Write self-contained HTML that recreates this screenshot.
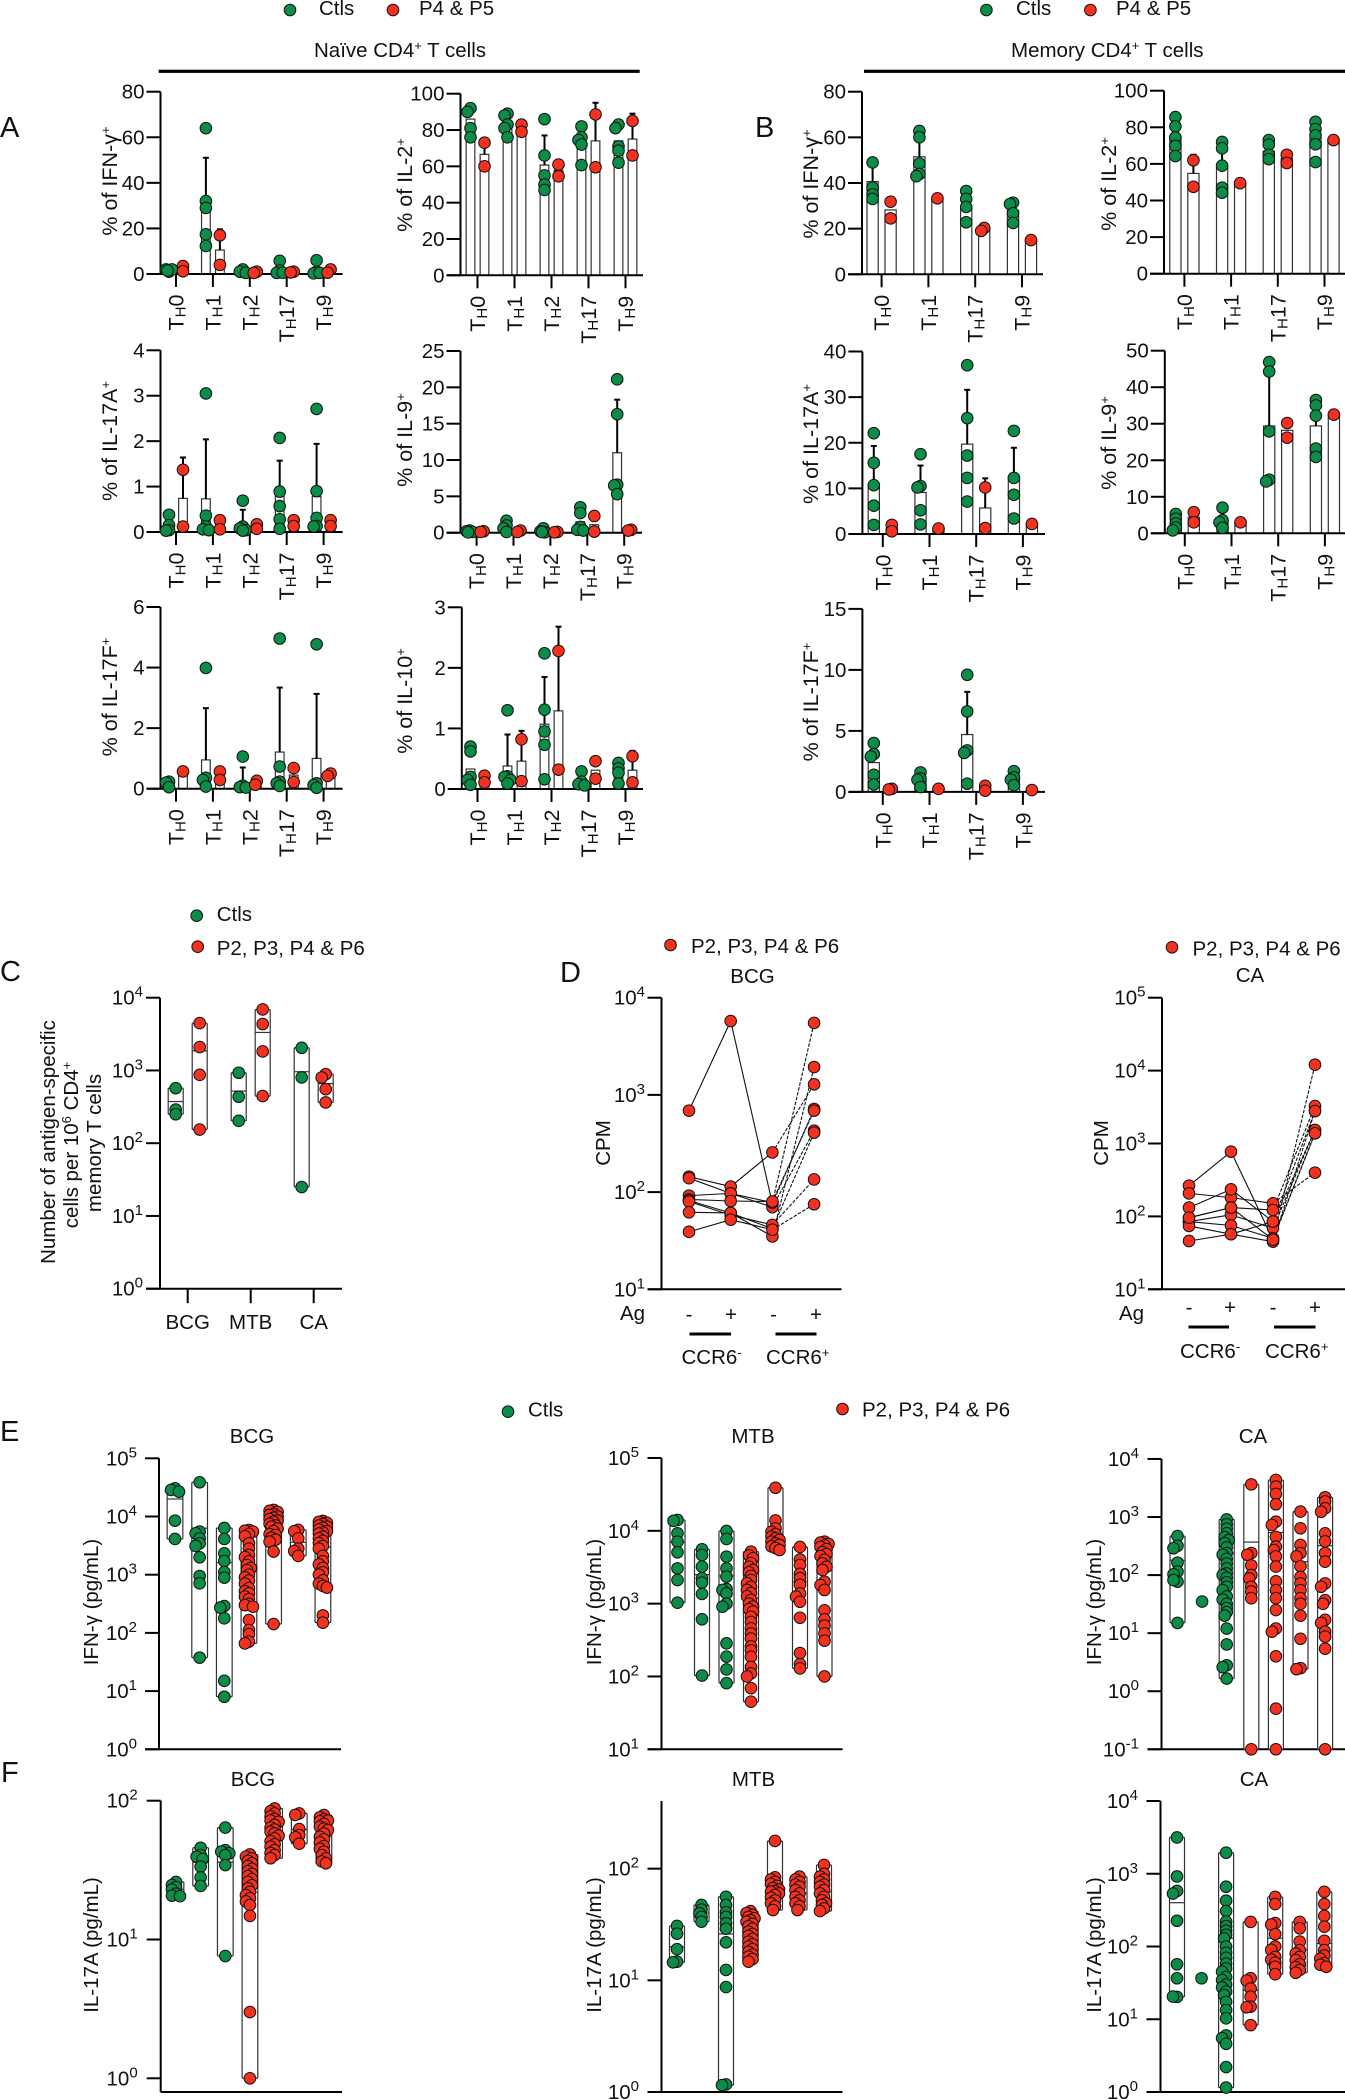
<!DOCTYPE html>
<html lang="en">
<head>
<meta charset="utf-8">
<title>CD4 T cell cytokine panels</title>
<style>
html,body{margin:0;padding:0;background:#fff;width:1345px;height:2100px;overflow:hidden}
svg{display:block}
text{font-family:"Liberation Sans",Arial,sans-serif;fill:#111;font-size:20.5px}
.letter{font-size:29px}
</style>
</head>
<body>
<svg id="fig" xmlns="http://www.w3.org/2000/svg" width="1345" height="2100" viewBox="0 0 1345 2100">
<rect x="0" y="0" width="1345" height="2100" fill="#fff"/>

<!-- legends and headers -->
<g>
<circle cx="290" cy="10" r="5.8" fill="#0b8c47" stroke="#111"/>
<text x="319" y="15">Ctls</text>
<circle cx="393" cy="10" r="5.8" fill="#f4301f" stroke="#111"/>
<text x="419" y="15">P4 &amp; P5</text>
</g>
<text x="314" y="57">Naïve CD4<tspan dy="-7" font-size="13">+</tspan><tspan dy="7"> T cells</tspan></text>
<rect x="158.7" y="69.7" width="481" height="3.2" fill="#000"/>
<g>
<circle cx="986.4" cy="10" r="5.8" fill="#0b8c47" stroke="#111"/>
<text x="1016" y="15">Ctls</text>
<circle cx="1090.4" cy="10" r="5.8" fill="#f4301f" stroke="#111"/>
<text x="1116" y="15">P4 &amp; P5</text>
</g>
<text x="1011" y="57">Memory CD4<tspan dy="-7" font-size="13">+</tspan><tspan dy="7"> T cells</tspan></text>
<rect x="864" y="69.7" width="481" height="3.2" fill="#000"/>

<!-- panel letters -->
<text class="letter" x="0" y="137">A</text>
<text class="letter" x="755" y="137">B</text>
<text class="letter" x="0" y="981">C</text>
<text class="letter" x="560" y="982">D</text>
<text class="letter" x="0" y="1441">E</text>
<text class="letter" x="1" y="1782">F</text>

<!-- y axis titles, panels A and B -->
<text font-size="21" style="font-size:21.5px" transform="translate(117,181) rotate(-90)" text-anchor="middle">% of IFN-γ<tspan dy="-7" font-size="13">+</tspan></text>
<text style="font-size:21.5px" transform="translate(412,185) rotate(-90)" text-anchor="middle">% of IL-2<tspan dy="-7" font-size="13">+</tspan></text>
<text style="font-size:21.5px" transform="translate(117,441) rotate(-90)" text-anchor="middle">% of IL-17A<tspan dy="-7" font-size="13">+</tspan></text>
<text style="font-size:21.5px" transform="translate(412,440) rotate(-90)" text-anchor="middle">% of IL-9<tspan dy="-7" font-size="13">+</tspan></text>
<text style="font-size:21.5px" transform="translate(117,697) rotate(-90)" text-anchor="middle">% of IL-17F<tspan dy="-7" font-size="13">+</tspan></text>
<text style="font-size:21.5px" transform="translate(412,701) rotate(-90)" text-anchor="middle">% of IL-10<tspan dy="-7" font-size="13">+</tspan></text>
<text style="font-size:21.5px" transform="translate(818,184) rotate(-90)" text-anchor="middle">% of IFN-γ<tspan dy="-7" font-size="13">+</tspan></text>
<text style="font-size:21.5px" transform="translate(1116,184) rotate(-90)" text-anchor="middle">% of IL-2<tspan dy="-7" font-size="13">+</tspan></text>
<text style="font-size:21.5px" transform="translate(818,444) rotate(-90)" text-anchor="middle">% of IL-17A<tspan dy="-7" font-size="13">+</tspan></text>
<text style="font-size:21.5px" transform="translate(1116,443) rotate(-90)" text-anchor="middle">% of IL-9<tspan dy="-7" font-size="13">+</tspan></text>
<text style="font-size:21.5px" transform="translate(818,702) rotate(-90)" text-anchor="middle">% of IL-17F<tspan dy="-7" font-size="13">+</tspan></text>

<!-- panel C labels -->
<g>
<circle cx="196.7" cy="915.7" r="5.8" fill="#0b8c47" stroke="#111"/>
<text x="216.7" y="921">Ctls</text>
<circle cx="197.7" cy="946.7" r="5.8" fill="#f4301f" stroke="#111"/>
<text x="216.7" y="955">P2, P3, P4 &amp; P6</text>
</g>
<text transform="translate(55,1142) rotate(-90)" text-anchor="middle">Number of antigen-specific</text>
<text transform="translate(78,1145) rotate(-90)" text-anchor="middle">cells per 10<tspan dy="-7" font-size="13">6</tspan><tspan dy="7"> CD4</tspan><tspan dy="-7" font-size="13">+</tspan></text>
<text transform="translate(101,1143) rotate(-90)" text-anchor="middle">memory T cells</text>

<!-- panel D labels -->
<g>
<circle cx="670.5" cy="945" r="5.8" fill="#f4301f" stroke="#111"/>
<text x="691" y="953">P2, P3, P4 &amp; P6</text>
</g>
<text x="752.5" y="983" text-anchor="middle">BCG</text>
<text transform="translate(610,1143) rotate(-90)" text-anchor="middle">CPM</text>
<text x="620" y="1320">Ag</text>
<text x="689" y="1321" text-anchor="middle">-</text>
<text x="731" y="1321" text-anchor="middle">+</text>
<text x="773.5" y="1321" text-anchor="middle">-</text>
<text x="816" y="1321" text-anchor="middle">+</text>
<rect x="689.5" y="1332.5" width="41.5" height="3" fill="#000"/>
<rect x="775.5" y="1332.5" width="41" height="3" fill="#000"/>
<text x="681.5" y="1364">CCR6<tspan dy="-7" font-size="13">-</tspan></text>
<text x="766" y="1364">CCR6<tspan dy="-7" font-size="13">+</tspan></text>

<g>
<circle cx="1172" cy="947.3" r="5.8" fill="#f4301f" stroke="#111"/>
<text x="1192.5" y="955.5">P2, P3, P4 &amp; P6</text>
</g>
<text x="1250" y="982" text-anchor="middle">CA</text>
<text transform="translate(1108,1143) rotate(-90)" text-anchor="middle">CPM</text>
<text x="1119" y="1320">Ag</text>
<text x="1189" y="1314" text-anchor="middle">-</text>
<text x="1230" y="1314" text-anchor="middle">+</text>
<text x="1273" y="1314" text-anchor="middle">-</text>
<text x="1315" y="1314" text-anchor="middle">+</text>
<rect x="1188.5" y="1325.5" width="40.5" height="3" fill="#000"/>
<rect x="1274" y="1325.5" width="41.5" height="3" fill="#000"/>
<text x="1180" y="1358">CCR6<tspan dy="-7" font-size="13">-</tspan></text>
<text x="1265" y="1358">CCR6<tspan dy="-7" font-size="13">+</tspan></text>

<!-- panel E labels -->
<circle cx="508" cy="1411.7" r="5.8" fill="#0b8c47" stroke="#111"/>
<text x="528" y="1416.5">Ctls</text>
<circle cx="842.5" cy="1409" r="5.8" fill="#f4301f" stroke="#111"/>
<text x="862" y="1416.5">P2, P3, P4 &amp; P6</text>
<text x="252" y="1443" text-anchor="middle">BCG</text>
<text x="753" y="1443" text-anchor="middle">MTB</text>
<text x="1253" y="1443" text-anchor="middle">CA</text>
<text transform="translate(98,1602) rotate(-90)" text-anchor="middle">IFN-γ (pg/mL)</text>
<text transform="translate(601,1602) rotate(-90)" text-anchor="middle">IFN-γ (pg/mL)</text>
<text transform="translate(1101,1602) rotate(-90)" text-anchor="middle">IFN-γ (pg/mL)</text>

<!-- panel F labels -->
<text x="253" y="1786" text-anchor="middle">BCG</text>
<text x="753.5" y="1786" text-anchor="middle">MTB</text>
<text x="1254" y="1786" text-anchor="middle">CA</text>
<text transform="translate(98,1945) rotate(-90)" text-anchor="middle">IL-17A (pg/mL)</text>
<text transform="translate(601,1945) rotate(-90)" text-anchor="middle">IL-17A (pg/mL)</text>
<text transform="translate(1101,1945) rotate(-90)" text-anchor="middle">IL-17A (pg/mL)</text>
</svg>

<script>
/* ---------- categories ---------- */
const subsetsNaive = ["0","1","2","17","9"];
const subsetsMemory = ["0","1","17","9"];
const antigenLabels = ["BCG","MTB","CA"];

/* ---------- panel A, IFN-gamma ---------- */
const a1Ticks = [0,20,40,60,80];
const a1Ctl = [[1,2,2,1.5],[64,32,29,17.4,12.3],[2,1,0.5],[5.8,1.5,0.5,0.6],[6,1,0.3,0.5]];
const a1Pat = [[3.5,1.2],[17,4],[1,0.5],[1,0.7],[2,0.6]];
const a1CtlBar = [1.6,28,1.2,2,2];
const a1PatBar = [2.4,10.5,0.8,0.9,1.3];
const a1CtlErr = [null,51,null,null,null];
const a1PatErr = [null,19.6,null,null,null];
/* ---------- panel A, IL-2 ---------- */
const a2Ticks = [0,20,40,60,80,100];
const a2Ctl = [[92,90,81,76],[89,88,83,81,76],[86,66,55,50,47],[82,76,74.5,72,60.7],[83,81,71,68.6,62]];
const a2Pat = [[73,60],[83,79],[61,54.5],[88.6,59.5],[85,66]];
const a2CtlBar = [86,84,60.7,73,74];
const a2PatBar = [66.6,81,57.8,74,75];
const a2CtlErr = [null,null,77,null,null];
const a2PatErr = [73,null,null,95,89];
/* ---------- panel A, IL-17A ---------- */
const a3Ticks = [0,1,2,3,4];
const a3Ctl = [[0.38,0.15,0.04,0.03],[3.05,0.36,0.12,0.06,0.04],[0.69,0.12,0.08,0.04,0.03],[2.07,0.89,0.57,0.28,0.07],[2.71,0.9,0.31,0.13,0.12]];
const a3Pat = [[1.37,0.12],[0.26,0.06],[0.17,0.07],[0.26,0.13],[0.26,0.13]];
const a3CtlBar = [0.15,0.73,0.2,0.78,0.78];
const a3PatBar = [0.74,0.16,0.12,0.2,0.2];
const a3CtlErr = [null,2.04,0.49,1.57,1.94];
const a3PatErr = [1.64,null,null,null,null];
/* ---------- panel A, IL-9 ---------- */
const a4Ticks = [0,5,10,15,20,25];
const a4Ctl = [[0.3,0.2,0.1,0.05],[1.65,1,0.6,0.1],[0.6,0.2,0.05,0.1],[3.5,2.7,0.8,0.4,0.3],[21.1,16.3,6.6,6.5,5.3]];
const a4Pat = [[0.2,0.1],[0.3,0.1],[0.1,0.05],[2.3,0.15],[0.4,0.3]];
const a4CtlBar = [0.15,0.6,0.2,1.5,11];
const a4PatBar = [0.15,0.2,0.08,1.1,0.35];
const a4CtlErr = [null,null,null,null,18.3];
const a4PatErr = [null,null,null,null,null];
/* ---------- panel A, IL-17F ---------- */
const a5Ticks = [0,2,4,6];
const a5Ctl = [[0.23,0.2,0.05],[3.99,0.36,0.29,0.07],[1.06,0.1,0.05,0.04],[4.96,0.73,0.23,0.18,0.09],[4.77,0.18,0.12,0.03]];
const a5Pat = [[0.57],[0.57,0.29],[0.26,0.13],[0.68,0.22],[0.5,0.42]];
const a5CtlBar = [0.1,0.95,0.2,1.21,1];
const a5PatBar = [0.55,0.43,0.2,0.45,0.46];
const a5CtlErr = [null,2.66,0.7,3.34,3.13];
const a5PatErr = [null,null,null,null,null];
/* ---------- panel A, IL-10 ---------- */
const a6Ticks = [0,1,2,3];
const a6Ctl = [[0.7,0.62,0.2,0.15,0.07],[1.3,0.21,0.2,0.15,0.09],[2.24,1.31,0.95,0.73,0.16],[0.29,0.12,0.08,0.06],[0.43,0.34,0.27,0.09]];
const a6Pat = [[0.22,0.11],[0.82,0.13],[2.28,0.32],[0.46,0.17],[0.54,0.11]];
const a6CtlBar = [0.33,0.38,1.07,0.17,0.3];
const a6PatBar = [0.17,0.46,1.29,0.31,0.31];
const a6CtlErr = [null,0.9,1.85,null,null];
const a6PatErr = [null,0.96,2.68,null,0.63];

/* ---------- panel B, IFN-gamma ---------- */
const b1Ticks = [0,20,40,60,80];
const b1Ctl = [[49,38,35,33],[62.8,60,48.5,44,43],[36.5,33,29.5,22.8],[31.4,30.8,26.7,22.5]];
const b1Pat = [[31.8,24.5],[33.3],[20.3,19],[15]];
const b1CtlBar = [40.6,51.5,30,28];
const b1PatBar = [28.2,33,20,15];
const b1CtlErr = [49,60,null,null];
const b1PatErr = [null,null,null,null];
/* ---------- panel B, IL-2 ---------- */
const b2Ticks = [0,20,40,60,80,100];
const b2Ctl = [[85.6,80.5,74.5,69.8,64.3],[72,68.5,59,47,44.3],[73,70.5,65,62.6],[83,79,75.6,70.7,61]];
const b2Pat = [[62,47.5],[49.5],[65,60.5],[73]];
const b2CtlBar = [75,58,67,74];
const b2PatBar = [54.8,49.5,63,73];
const b2CtlErr = [null,68,null,null];
const b2PatErr = [65,null,null,null];
/* ---------- panel B, IL-17A ---------- */
const b3Ticks = [0,10,20,30,40];
const b3Ctl = [[22.1,15.6,10.7,6.2,2],[17.5,10.5,10.2,5.2,2.1],[37,25.4,17.2,12.3,7.1],[22.6,12.3,8.6,3.4]];
const b3Pat = [[2,0.6],[1.2],[10.2,1.3],[2.2]];
const b3CtlBar = [10.7,9.1,19.7,12.3];
const b3PatBar = [1.3,1.2,5.7,2.2];
const b3CtlErr = [19.3,15,31.6,18.9];
const b3PatErr = [null,null,12.2,null];
/* ---------- panel B, IL-9 ---------- */
const b4Ticks = [0,10,20,30,40,50];
const b4Ctl = [[5.3,4,2.7,1.6,0.8],[7,3.6,3,1.5],[46.9,44.3,27.9,14.7,14.2],[36.5,35,32.2,23.2,20.9]];
const b4Pat = [[5.8,3],[3],[30.2,26.2],[32.5]];
const b4CtlBar = [3,3.4,29.4,29.4];
const b4PatBar = [4.4,3,28.2,32.5];
const b4CtlErr = [null,null,44,33.5];
const b4PatErr = [null,null,null,null];
/* ---------- panel B, IL-17F ---------- */
const b5Ticks = [0,5,10,15];
const b5Ctl = [[4,3.1,2.9,1.4,0.6],[1.6,1.1,1,0.4],[9.6,6.6,3.4,3.2,0.67],[1.7,1.2,1,0.55]];
const b5Pat = [[0.25,0.2],[0.25],[0.5,0.1],[0.15]];
const b5CtlBar = [2.4,1,4.7,1.1];
const b5PatBar = [0.2,0.25,0.3,0.15];
const b5CtlErr = [null,null,8.2,null];
const b5PatErr = [null,null,null,null];

/* ---------- panel C ---------- */
const cTicks = [0,1,2,3,4];
const cValues = [[571,290,250],[4480,2094,870,154],[930,435,203],[6900,4350,1825,444],[2050,802,25],[890,800,553,363]];
const cMeans = [374,1860,520,3330,960,660];
const cGroups = ["ctl","pat","ctl","pat","ctl","pat"];

/* ---------- panel D ---------- */
const dBcgTicks = [1,2,3,4];
const dBcgPatients = [
 [689,5754,76,716],[144,114,256,1285],[139,97,70,428],[92,97,78,5500],
 [84,81,80,689],[82,61,42,409],[80,58,46,135],[62,61,35,1936],[39,52,41,75]];
const dCaTicks = [1,2,3,4,5];
const dCaPatients = [
 [264,773,48,12050],[207,181,151,398],[132,235,85,2790],[96,132,122,3266],
 [85,105,69,1530],[85,75,50,1380],[74,57,45,2790],[46,57,85,1530],[96,132,48,1380]];

/* ---------- panel E ---------- */
const columnGroups = ["ctl","ctl","ctl","pat","pat","pat","pat"];
const e1Ticks = [0,1,2,3,4,5];
const e1Values = [
 [30500,28600,26700,8490,4110],
 [38700,5500,5140,4210,3460,3120,1990,950,711,37.6],
 [6350,4110,2330,1720,1110,891,290,272,178,15,8],
 [5875,5700,5500,5000,4570,3470,2800,2190,2000,1700,1470,1300,1200,1000,900,794,700,589,520,479,420,380,316,300,282,166,112,95,71,66],
 [13000,12500,12000,11000,10600,10000,9500,9000,8500,8100,7500,7000,6700,6200,5600,5000,4800,4300,4000,3700,2500,142],
 [5900,5600,4200,2800,2550,2100],
 [8400,8100,7800,7400,7000,6700,6400,6000,5600,5300,5100,4500,4200,3800,3500,3100,2800,2100,1700,1500,1300,1100,1000,800,700,640,600,200,150]];
const e1Means = [20000,6300,1610,1400,6500,3600,3000];
const e2Ticks = [1,2,3,4,5];
const e2Values = [
 [14100,13700,9250,7100,5070,3050,2110,1030],
 [5570,4650,3220,2230,1940,1360,610,103],
 [9960,7730,4420,3050,2350,1590,1540,1380,1000,910,285,187,125,81],
 [5180,4600,4190,3600,3200,2900,2690,2400,2110,1900,1700,1540,1400,1260,1130,1000,910,840,776,660,560,457,389,331,260,229,186,135,110,100,69,45],
 [39000,13900,10800,9700,9000,8300,7900,7500,7100,6700,6400,6100,5800,5450],
 [6000,4050,3400,2570,2240,1820,1380,1250,1060,640,210,148,129],
 [7100,6900,6600,6300,6000,5600,5100,4800,4500,4000,3550,3200,2900,2000,1800,1540,810,610,500,390,310,100]];
const e2Means = [7000,2500,2400,1200,9000,2000,3000];
const e3Ticks = [-1,0,1,2,3,4];
const e3Values = [
 [470,320,290,164,115,103,77,82,15],
 [35],
 [910,750,630,525,450,400,355,300,240,224,190,158,130,107,100,90,75,63,55,43,38,32,27,23,20,12,6.4,2.8,2.6,1.65],
 [3650,240,224,147,100,87,63,52,40,0.1],
 [4350,3340,2500,1660,830,730,455,310,270,210,140,78,55,40,25,12,10.6,4,0.5,0.1],
 [1240,640,330,240,210,142,93,72,55,40,32,20,8,2.5,2.4],
 [2190,1860,1410,1230,525,380,240,170,72,63,37,32,17,15,10.6,8.7,5.4,0.1]];
const e3Means = [180,null,240,370,540,170,320];

/* ---------- panel F ---------- */
const f1Ticks = [0,1,2];
const f1Values = [
 [26,24.7,23.8,22.9,21.4,20.7,20.5],
 [45.8,40.6,39.5,38,33.5,28,24.3],
 [64,44,43,41.8,40.5,34.4,7.6],
 [41,39.5,38.4,36.8,35.4,33.8,32.3,31,29.7,28.6,27.2,26,24.6,23.4,22,20.9,19.8,18.8,17.7,14.8,3,1],
 [88,84,81,77,74,72,70.5,67,64,62,59.7,58,56,53.5,51,48.5,46.6,44,42,40.6,38.5],
 [81,79,62.5,56.5,54.5,49],
 [78.8,76,73.5,72,71,68,65,63,61.5,58,55,52.6,50,47,45,42.9,40.5,38.4,36.5,35.4]];
const f1Means = [23,36,36,22,60,62,55];
const f2Ticks = [0,1,2];
const f2Values = [
 [30.7,26.2,19,14.7,14.5],
 [47.3,43,39.8,37,33.5],
 [56,47.3,40.7,37,32.4,29,21.9,12.4,8.7,1.17,1.15],
 [41.7,40,38.5,37,35.9,34.5,33.5,32,30.5,29,27.3,26,25,23.5,22.2,21,20,19,18,17,16.3,15.5,14.7],
 [177,83.6,80,76,73,70,67,65,63,62,60,58,55,52,49,46,42.6],
 [85,80,76,72,69,64.4,60,56,52,49,46,42.6],
 [108,90,85,80,76,72,69,64.4,60,56,52,49,47.3,44,41.7]];
const f2Means = [20,40,26,24,65,60,62];
const f3Ticks = [0,1,2,3,4];
const f3Values = [
 [3160,920,580,534,226,57,36.6,20.3,20.5],
 [36.6],
 [1950,663,427,307,220,190,165,145,129,100,82,70,58,50,45,38,34.5,30,27.4,24,21.5,17.4,13.4,10.3,6,5.5,4.6,2.2,1.15],
 [218,36.7,34,26.4,20.4,14.9,14.6,8.3],
 [480,383,210,200,148,100,90,72,66,60,52.6,41.6],
 [218,178,117,89,80,72,65,57,52,47.6,43.5],
 [565,383,263,187,120,89,75,68,59,56,52.6]];
const f3Means = [400,null,130,25,130,90,110];

/* ---------- drawing ---------- */
const NS = "http://www.w3.org/2000/svg";
const GREEN = "#0b8c47";
const RED = "#f4301f";
const INK = "#111";
const fig = document.getElementById("fig");
const OFFSETS = [0,-2.5,2.5,-5,5];
const MIN_SEP = 4;
const R = 5.8;

function el(tag, attrs, parent) {
  const n = document.createElementNS(NS, tag);
  for (const k in attrs) n.setAttribute(k, attrs[k]);
  parent.appendChild(n);
  return n;
}
function line(parent, x1, y1, x2, y2, w, stroke) {
  return el("line", {x1:x1, y1:y1, x2:x2, y2:y2, stroke:stroke || "#000", "stroke-width":w}, parent);
}
function swarm(vals, yFn, cx, spread) {
  const placed = [];
  return vals.map(function (v) {
    const y = yFn(v);
    let best = 0, bestD = -1;
    for (const o0 of OFFSETS) {
      const o = o0 * spread;
      let d = Infinity;
      for (const p of placed) d = Math.min(d, Math.hypot(p.x - (cx + o), p.y - y));
      if (d >= MIN_SEP) { best = o; break; }
      if (d > bestD) { bestD = d; best = o; }
    }
    placed.push({x: cx + best, y: y});
    return cx + best;
  });
}
function drawPoints(parent, vals, yFn, cx, color, spread) {
  const xs = swarm(vals, yFn, cx, spread);
  vals.forEach(function (v, i) {
    const c = el("circle", {cx:xs[i], cy:yFn(v), r:R, fill:color, stroke:INK, "stroke-width":1}, parent);
    
    
  });
}
function drawYAxisBase(g, c) {
  const a = line(g, c.axisX, c.axisTop, c.axisX, c.axisBottom, 2);
  
  
  const b = line(g, c.axisX - (c.baseFromAxis ? 0 : 14), c.axisBottom, c.right, c.axisBottom, 2);
  
  
}
function drawYTick(g, c, y) {
  const t = line(g, c.axisX - 14, y, c.axisX, y, 2);
  
  
}

/* bar panels (A, B) */
function barPanel(c) {
  const g = el("g", {}, fig);
  
  
  const y = function (v) { return c.y0 - v / c.max * (c.y0 - c.yTop); };
  const bandX = function (i) { return c.first + i * c.step; };
  c.axisTop = c.yTop;
  c.axisBottom = c.y0;
  c.cats.forEach(function (cat, i) {
    [[c.ctlBar, c.ctlErr, -c.off], [c.patBar, c.patErr, c.off]].forEach(function (s) {
      const cx = bandX(i) + s[2];
      const bar = el("rect", {x:cx - c.barW / 2, y:y(s[0][i]), width:c.barW, height:c.y0 - y(s[0][i]), fill:"#fff", stroke:"#333", "stroke-width":1.2}, g);
      
      
      if (s[1][i] !== null) {
        const e = line(g, cx, y(s[0][i]), cx, y(s[1][i]), 2);
        
        
        const cap = line(g, cx - 3, y(s[1][i]), cx + 3, y(s[1][i]), 2);
        
        
      }
    });
  });
  drawYAxisBase(g, c);
  c.ticks.forEach(function (t) {
    drawYTick(g, c, y(t));
    const lab = el("text", {x:c.axisX - 16, y:y(t) + 7, "text-anchor":"end"}, g);
    lab.textContent = String(t);
    
    
  });
  c.cats.forEach(function (cat, i) {
    const tk = line(g, bandX(i), c.y0, bandX(i), c.y0 + 13, 2);
    
    
    const lab = el("text", {transform:"translate(" + (bandX(i) + 7.5) + "," + (c.y0 + 20.5) + ") rotate(-90)", "text-anchor":"end", style:"font-size:21.5px"}, g);
    
    
    const t1 = el("tspan", {}, lab);
    t1.textContent = "T";
    const t2 = el("tspan", {"font-size":"15", dy:"2"}, lab);
    t2.textContent = "H";
    const t3 = el("tspan", {dy:"-2"}, lab);
    t3.textContent = cat;
    drawPoints(g, c.ctl[i], y, bandX(i) - c.off, GREEN, 0.6);
    drawPoints(g, c.pat[i], y, bandX(i) + c.off, RED, 0.6);
  });
}

/* log axis helper */
function logScale(c) {
  return function (v) { return c.yRef - (Math.log10(v) - c.refExp) * c.decade; };
}
function logTicks(g, c, y) {
  c.ticks.forEach(function (t) {
    const yy = y(Math.pow(10, t));
    drawYTick(g, c, yy);
    const lab = el("text", {x:c.axisX - c.labelGap, y:yy + 7, "text-anchor":"end"}, g);
    
    
    const a = el("tspan", {}, lab);
    a.textContent = "10";
    const b = el("tspan", {"font-size":"15", dy:"-8"}, lab);
    b.textContent = String(t);
  });
}

/* floating min-max columns (C, E, F) */
function floatPanel(c) {
  const g = el("g", {}, fig);
  
  
  const y = logScale(c);
  drawYAxisBase(g, c);
  logTicks(g, c, y);
  c.values.forEach(function (vals, i) {
    const cx = c.colX(i);
    if (vals.length > 1) {
      const top = y(Math.max.apply(null, vals));
      const bot = y(Math.min.apply(null, vals));
      const box = el("rect", {x:cx - c.boxW / 2, y:top, width:c.boxW, height:bot - top, rx:1, fill:"#fff", stroke:"#333", "stroke-width":1.2}, g);
      
      
    }
    if (c.means[i] !== null) {
      const m = line(g, cx - c.boxW / 2, y(c.means[i]), cx + c.boxW / 2, y(c.means[i]), 1.2, "#333");
      
      
    }
  });
  c.values.forEach(function (vals, i) {
    drawPoints(g, vals, y, c.colX(i), c.groups[i] === "ctl" ? GREEN : RED, 0.8);
  });
  if (c.cats) {
    c.cats.forEach(function (cat, i) {
      const tk = line(g, c.catX(i), c.axisBottom, c.catX(i), c.axisBottom + 14.5, 2);
      
      
      const lab = el("text", {x:c.catX(i), y:c.axisBottom + 40.5, "text-anchor":"middle"}, g);
      lab.textContent = cat;
      
      
    });
  }
}

/* paired lines (D) */
function pairedPanel(c) {
  const g = el("g", {}, fig);
  
  
  const y = logScale(c);
  const colX = function (i) { return c.first + i * c.step; };
  drawYAxisBase(g, c);
  logTicks(g, c, y);
  c.patients.forEach(function (p) {
    for (let i = 0; i < p.length - 1; i++) {
      const seg = line(g, colX(i), y(p[i]), colX(i + 1), y(p[i + 1]), 1.1, "#111");
      if (i === p.length - 2) seg.setAttribute("stroke-dasharray", "3.5 1.5");
      
      
    }
  });
  c.patients.forEach(function (p) {
    p.forEach(function (v, i) {
      const d = el("circle", {cx:colX(i), cy:y(v), r:R, fill:RED, stroke:INK, "stroke-width":1}, g);
      
      
    });
  });
}

/* ---------- panel layout ---------- */
barPanel({name:"chart-a-ifn", axisX:160.5, right:342.6, yTop:91.7, y0:274, max:80, ticks:a1Ticks, cats:subsetsNaive, first:176, step:36.9, off:7, barW:8.7, ctl:a1Ctl, pat:a1Pat, ctlBar:a1CtlBar, patBar:a1PatBar, ctlErr:a1CtlErr, patErr:a1PatErr});
barPanel({name:"chart-a-il2", axisX:460.5, right:643, yTop:93.7, y0:275.3, max:100, ticks:a2Ticks, cats:subsetsNaive, first:477.5, step:37, off:7, barW:8.7, ctl:a2Ctl, pat:a2Pat, ctlBar:a2CtlBar, patBar:a2PatBar, ctlErr:a2CtlErr, patErr:a2PatErr});
barPanel({name:"chart-a-il17a", axisX:160.5, right:342.6, yTop:350.3, y0:532, max:4, ticks:a3Ticks, cats:subsetsNaive, first:176, step:36.9, off:7, barW:8.7, ctl:a3Ctl, pat:a3Pat, ctlBar:a3CtlBar, patBar:a3PatBar, ctlErr:a3CtlErr, patErr:a3PatErr});
barPanel({name:"chart-a-il9", axisX:460.5, right:642, yTop:351, y0:532.7, max:25, ticks:a4Ticks, cats:subsetsNaive, first:476.6, step:36.9, off:7, barW:8.7, ctl:a4Ctl, pat:a4Pat, ctlBar:a4CtlBar, patBar:a4PatBar, ctlErr:a4CtlErr, patErr:a4PatErr});
barPanel({name:"chart-a-il17f", axisX:160.5, right:342.6, yTop:607, y0:788.7, max:6, ticks:a5Ticks, cats:subsetsNaive, first:176, step:36.9, off:7, barW:8.7, ctl:a5Ctl, pat:a5Pat, ctlBar:a5CtlBar, patBar:a5PatBar, ctlErr:a5CtlErr, patErr:a5PatErr});
barPanel({name:"chart-a-il10", axisX:461.8, right:643, yTop:607.3, y0:789, max:3, ticks:a6Ticks, cats:subsetsNaive, first:477.5, step:37, off:7, barW:8.7, ctl:a6Ctl, pat:a6Pat, ctlBar:a6CtlBar, patBar:a6PatBar, ctlErr:a6CtlErr, patErr:a6PatErr});

barPanel({name:"chart-b-ifn", axisX:862, right:1043, yTop:91.7, y0:274.3, max:80, ticks:b1Ticks, cats:subsetsMemory, first:881.6, step:46.8, off:9, barW:11.2, ctl:b1Ctl, pat:b1Pat, ctlBar:b1CtlBar, patBar:b1PatBar, ctlErr:b1CtlErr, patErr:b1PatErr});
barPanel({name:"chart-b-il2", axisX:1164, right:1345, yTop:90.7, y0:273.7, max:100, ticks:b2Ticks, cats:subsetsMemory, first:1184.4, step:46.7, off:9, barW:11.2, ctl:b2Ctl, pat:b2Pat, ctlBar:b2CtlBar, patBar:b2PatBar, ctlErr:b2CtlErr, patErr:b2PatErr});
barPanel({name:"chart-b-il17a", axisX:862.4, right:1045, yTop:351.5, y0:534, max:40, ticks:b3Ticks, cats:subsetsMemory, first:882.8, step:46.7, off:9, barW:11.2, ctl:b3Ctl, pat:b3Pat, ctlBar:b3CtlBar, patBar:b3PatBar, ctlErr:b3CtlErr, patErr:b3PatErr});
barPanel({name:"chart-b-il9", axisX:1164.8, right:1345, yTop:350.7, y0:533.3, max:50, ticks:b4Ticks, cats:subsetsMemory, first:1184.8, step:46.7, off:9, barW:11.2, ctl:b4Ctl, pat:b4Pat, ctlBar:b4CtlBar, patBar:b4PatBar, ctlErr:b4CtlErr, patErr:b4PatErr});
barPanel({name:"chart-b-il17f", axisX:862.4, right:1045, yTop:608.9, y0:791.9, max:15, ticks:b5Ticks, cats:subsetsMemory, first:882.8, step:46.7, off:9, barW:11.2, ctl:b5Ctl, pat:b5Pat, ctlBar:b5CtlBar, patBar:b5PatBar, ctlErr:b5CtlErr, patErr:b5PatErr});

floatPanel({name:"chart-c", axisX:160, right:342, axisTop:997.7, axisBottom:1288.7, yRef:1288.7, refExp:0, decade:72.75, labelGap:17, ticks:cTicks, boxW:15,
  values:cValues, means:cMeans, groups:cGroups, cats:antigenLabels,
  catX:function (i) { return 187.7 + i * 63; },
  colX:function (i) { return 187.7 + Math.floor(i / 2) * 63 + (i % 2 ? 12 : -12); }});

pairedPanel({name:"chart-d-bcg", axisX:661.5, right:841.5, axisTop:997.7, axisBottom:1289.3, yRef:1289.3, refExp:1, decade:97.2, labelGap:16.5, ticks:dBcgTicks, first:689, step:41.7, patients:dBcgPatients});
pairedPanel({name:"chart-d-ca", axisX:1162, right:1345, axisTop:997.7, axisBottom:1289.3, yRef:1289.3, refExp:1, decade:72.9, labelGap:16.5, ticks:dCaTicks, first:1189, step:42, patients:dCaPatients});

floatPanel({name:"chart-e-bcg", axisX:159, right:341, axisTop:1458.3, axisBottom:1749.3, yRef:1749.3, refExp:0, decade:58.2, labelGap:22, ticks:e1Ticks, boxW:15.7,
  values:e1Values, means:e1Means, groups:columnGroups, colX:function (i) { return 175 + i * 24.65; }});
floatPanel({name:"chart-e-mtb", axisX:661.5, right:842.5, axisTop:1458, axisBottom:1749.3, yRef:1749.3, refExp:1, decade:72.83, labelGap:22.5, ticks:e2Ticks, boxW:15,
  values:e2Values, means:e2Means, groups:columnGroups, colX:function (i) { return 677.5 + i * 24.5; }});
floatPanel({name:"chart-e-ca", axisX:1161.5, right:1345, axisTop:1459, axisBottom:1749.3, yRef:1749.3, refExp:-1, decade:58.07, labelGap:22.5, ticks:e3Ticks, boxW:15,
  values:e3Values, means:e3Means, groups:columnGroups, colX:function (i) { return 1177.5 + i * 24.6; }});

floatPanel({name:"chart-f-bcg", axisX:160.7, right:342, axisTop:1800.7, axisBottom:2092, yRef:2078.3, refExp:0, decade:138.8, labelGap:23, ticks:f1Ticks, boxW:15.7, baseFromAxis:true,
  values:f1Values, means:f1Means, groups:columnGroups, colX:function (i) { return 176 + i * 24.65; }});
floatPanel({name:"chart-f-mtb", axisX:661.5, right:842.5, axisTop:1801, axisBottom:2092, yRef:2092, refExp:0, decade:111.67, labelGap:22.5, ticks:f2Ticks, boxW:15,
  values:f2Values, means:f2Means, groups:columnGroups, colX:function (i) { return 677 + i * 24.5; }});
floatPanel({name:"chart-f-ca", axisX:1160.5, right:1345, axisTop:1801, axisBottom:2092, yRef:2092, refExp:0, decade:72.75, labelGap:22.5, ticks:f3Ticks, boxW:15,
  values:f3Values, means:f3Means, groups:columnGroups, colX:function (i) { return 1177 + i * 24.55; }});
</script>
</body>
</html>
